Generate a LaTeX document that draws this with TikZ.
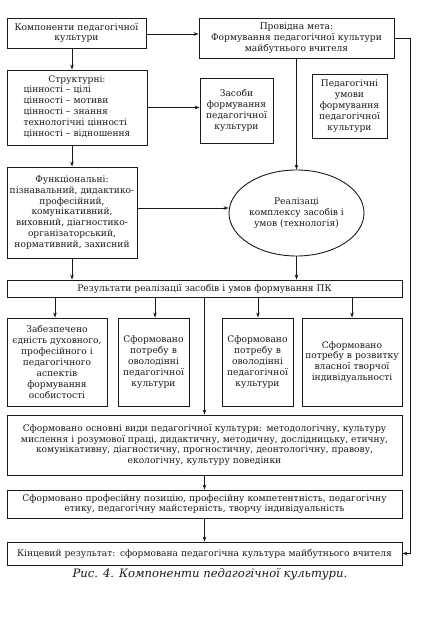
\documentclass[tikz,border=0pt]{standalone}
\usepackage{fontspec}
\setmainfont{DejaVu Serif}
\usepackage{tikz}
\usetikzlibrary{arrows.meta,shapes.geometric,calc}
\definecolor{ink}{HTML}{1A1A1A}
\definecolor{paper}{HTML}{FFFFFF}

\begin{document}
\begin{tikzpicture}[x=1pt, y=-1pt, font=\fontsize{9.1}{10.9}\selectfont, >={Stealth[length=5pt, width=3.6pt]},
    blk/.style={draw=ink, line width=0.9pt, align=center, inner xsep=1pt, inner ysep=1pt, text=ink},
    oval/.style={draw=ink, line width=0.9pt, ellipse, align=center, inner sep=0pt, text=ink},
    link/.style={draw=ink, line width=0.7pt, ->}]
    \useasboundingbox[fill=paper] (0,0) rectangle (432,617);
    % Top row: the components and the leading aim.
    \node[blk, minimum width=139pt, minimum height=30pt, text width=135pt] (comp) at (76.5,33) {Компоненти педагогічної\\культури};
    \node[blk, minimum width=195pt, minimum height=40pt, text width=191pt] (goal) at (296.5,38) {Провідна мета:\\Формування педагогічної культури\\майбутнього вчителя};
    % Structural components, means and conditions.
    \node[blk, minimum width=140pt, minimum height=75pt, text width=136pt] (struct) at (77,107.5) {Структурні:\\
      \begin{tabular}{@{}l@{}}цінності – цілі\\цінності – мотиви\\цінності – знання\\технологічні цінності\\цінності – відношення\end{tabular}};
    \node[blk, minimum width=73pt, minimum height=65pt, text width=71pt] (means) at (236.5,110.5) {Засоби\\формування\\педагогічної\\культури};
    \node[blk, minimum width=75pt, minimum height=64pt, text width=73pt] (cond) at (349.5,106) {Педагогічні\\умови\\формування\\педагогічної\\культури};
    % Functional components and the technology.
    \node[blk, minimum width=130pt, minimum height=91pt, text width=128pt] (func) at (72,212.5) {Функціональні:\\пізнавальний, дидактико-\\професійний,\\комунікативний,\\виховний, діагностико-\\організаторський,\\нормативний, захисний};
    \node[oval, minimum width=135pt, minimum height=86pt] (tech) at (296.5,213) {Реалізаці\\комплексу засобів і\\умов (технологія)};
    % Results.
    \node[blk, minimum width=395pt, minimum height=17pt, text width=391pt] (res) at (204.5,288.5) {Результати реалізації засобів і умов формування ПК};
    \node[blk, minimum width=100pt, minimum height=88pt, text width=98pt] (unity) at (57,362) {Забезпечено\\єдність духовного,\\професійного і\\педагогічного\\аспектів\\формування\\особистості};
    \node[blk, minimum width=71pt, minimum height=88pt, text width=69pt] (needA) at (153.5,362) {Сформовано\\потребу в\\оволодінні\\педагогічної\\культури};
    \node[blk, minimum width=71pt, minimum height=88pt, text width=69pt] (needB) at (257.5,362) {Сформовано\\потребу в\\оволодінні\\педагогічної\\культури};
    \node[blk, minimum width=100pt, minimum height=88pt, text width=98pt] (needC) at (352,362) {Сформовано\\потребу в розвитку\\власної творчої\\індивідуальності};
    \node[blk, minimum width=395pt, minimum height=60pt, text width=391pt] (kinds) at (204.5,445) {Сформовано основні види педагогічної культури: методологічну, культуру\\мислення і розумової праці, дидактичну, методичну, дослідницьку, етичну,\\комунікативну, діагностичну, прогностичну, деонтологічну, правову,\\екологічну, культуру поведінки};
    \node[blk, minimum width=395pt, minimum height=28pt, text width=391pt] (pos) at (204.5,504) {Сформовано професійну позицію, професійну компетентність, педагогічну\\етику, педагогічну майстерність, творчу індивідуальність};
    \node[blk, minimum width=395pt, minimum height=23pt, text width=391pt] (final) at (204.5,553.5) {Кінцевий результат: сформована педагогічна культура майбутнього вчителя};
    \node[text=ink, font=\fontsize{11.6}{13}\selectfont\itshape] (cap) at (210,574) {Рис. 4. Компоненти педагогічної культури.};
    % Connectors.
    \draw[link] (comp.east |- 0,34) -- (goal.west |- 0,34);
    \draw[link] (comp.south -| 72,0) -- (struct.north -| 72,0);
    \draw[link] (struct.east) -- (means.west |- struct.east);
    \draw[link] (goal.south) -- (tech.north);
    \draw[link] (goal.east) -- ++(16,0) |- (final.east);
    \draw[link] (struct.south -| 72,0) -- (func.north -| 72,0);
    \draw[link] (func.east |- 0,208) -- (tech.west |- 0,208);
    \draw[link] (func.south -| 72,0) -- (res.north -| 72,0);
    \draw[link] (tech.south) -- (tech.south |- res.north);
    \foreach \b/\x in {unity/55, needA/155, needB/258, needC/352} {
      \draw[link] (res.south -| \x,0) -- (\b.north -| \x,0);
    }
    \draw[link] (res.south) -- (kinds.north);
    \draw[link] (kinds.south) -- (pos.north);
    \draw[link] (pos.south) -- (final.north);
\end{tikzpicture}
\end{document}
